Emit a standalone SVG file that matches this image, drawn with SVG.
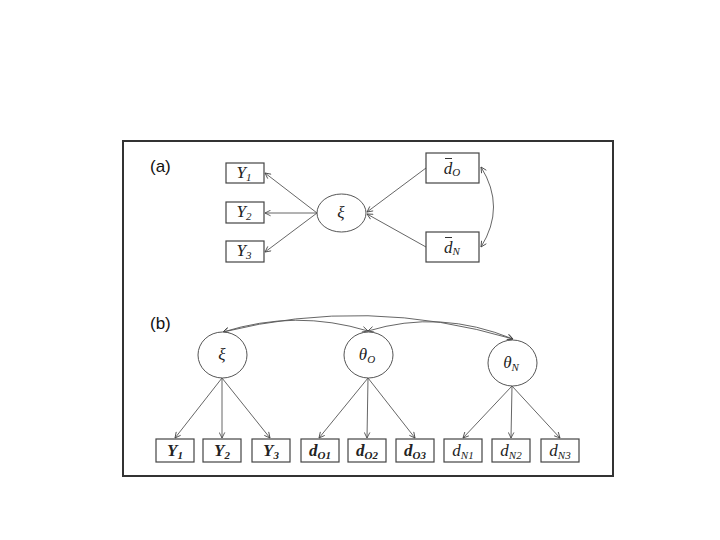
<svg xmlns="http://www.w3.org/2000/svg" width="720" height="540" viewBox="0 0 720 540">
<defs>
<marker id="ah" viewBox="0 0 10 10" refX="9" refY="5" markerWidth="7" markerHeight="7" markerUnits="userSpaceOnUse" orient="auto-start-reverse">
<path d="M1,1 L9,5 L1,9" fill="none" stroke="#444" stroke-width="1.2"/>
</marker>
</defs>
<style>
.box{fill:#fff;stroke:#444;stroke-width:1.2}
.ell{fill:#fff;stroke:#555;stroke-width:1}
.t{font-family:"Liberation Serif",serif;font-style:italic;font-size:17px;fill:#222;text-anchor:middle}
.tb{font-family:"Liberation Serif",serif;font-style:italic;font-weight:bold;font-size:17px;fill:#222;text-anchor:middle}
.sub{font-size:11px}
.lab{font-family:"Liberation Sans",Arial,sans-serif;font-size:17px;fill:#111}
.c{fill:none;stroke:#555;stroke-width:0.9;marker-end:url(#ah)}
.cc{fill:none;stroke:#555;stroke-width:0.9;marker-end:url(#ah);marker-start:url(#ah)}
.bar{stroke:#333;stroke-width:1}
</style>
<rect x="123" y="141" width="490" height="335" fill="#fff" stroke="#333" stroke-width="2"/>
<text class="lab" x="150" y="172">(a)</text>
<text class="lab" x="150" y="329">(b)</text>

<g id="connectors">
<line class="c" x1="317" y1="213" x2="265" y2="173"/>
<line class="c" x1="317" y1="213" x2="265" y2="213"/>
<line class="c" x1="317" y1="213" x2="265" y2="252"/>
<line class="c" x1="426" y1="168" x2="367" y2="212"/>
<line class="c" x1="426" y1="247" x2="367" y2="214"/>
<path class="cc" d="M481,167 Q506,207 481,247"/>
<path class="cc" d="M223,332 Q368,296 513,339"/>
<path class="cc" d="M223,332 Q296,309 368,331"/>
<path class="cc" d="M368,331 Q440,309 513,339"/>
<line class="c" x1="222" y1="378" x2="175" y2="438"/>
<line class="c" x1="222" y1="378" x2="222" y2="438"/>
<line class="c" x1="222" y1="378" x2="270" y2="438"/>
<line class="c" x1="368" y1="378" x2="319" y2="438"/>
<line class="c" x1="368" y1="378" x2="367" y2="438"/>
<line class="c" x1="368" y1="378" x2="415" y2="438"/>
<line class="c" x1="512" y1="386" x2="463" y2="438"/>
<line class="c" x1="512" y1="386" x2="511" y2="438"/>
<line class="c" x1="512" y1="386" x2="560" y2="438"/>
</g>

<g id="a_Y1"><rect class="box" x="226" y="163" width="38" height="20"/><text class="t" x="244" y="178">Y<tspan class="sub" dy="3">1</tspan></text></g>
<g id="a_Y2"><rect class="box" x="226" y="202" width="38" height="21"/><text class="t" x="244" y="217">Y<tspan class="sub" dy="3">2</tspan></text></g>
<g id="a_Y3"><rect class="box" x="226" y="241" width="38" height="21"/><text class="t" x="244" y="256">Y<tspan class="sub" dy="3">3</tspan></text></g>
<g id="a_xi"><ellipse class="ell" cx="341.5" cy="213" rx="24.5" ry="19"/><text class="t" x="341" y="218">ξ</text></g>
<g id="a_dO"><rect class="box" x="426" y="153" width="53" height="30"/><text class="t" x="452" y="174">d<tspan class="sub" dy="2">O</tspan></text><line class="bar" x1="445" y1="158.5" x2="452" y2="158.5"/></g>
<g id="a_dN"><rect class="box" x="426" y="232" width="53" height="30"/><text class="t" x="452" y="253">d<tspan class="sub" dy="2">N</tspan></text><line class="bar" x1="445" y1="237.5" x2="452" y2="237.5"/></g>

<g id="b_xi"><ellipse class="ell" cx="222.5" cy="355" rx="24.5" ry="23"/><text class="t" x="222" y="360">ξ</text></g>
<g id="b_thO"><ellipse class="ell" cx="368.5" cy="355" rx="24.5" ry="23"/><text class="t" x="367" y="360">θ<tspan class="sub" dy="3">O</tspan></text></g>
<g id="b_thN"><ellipse class="ell" cx="512.5" cy="363" rx="24.5" ry="23"/><text class="t" x="511" y="368">θ<tspan class="sub" dy="3">N</tspan></text></g>

<g id="b_Y1"><rect class="box" x="156" y="439" width="38" height="23"/><text class="tb" x="175" y="456">Y<tspan class="sub" dy="3">1</tspan></text></g>
<g id="b_Y2"><rect class="box" x="203" y="439" width="38" height="23"/><text class="tb" x="222" y="456">Y<tspan class="sub" dy="3">2</tspan></text></g>
<g id="b_Y3"><rect class="box" x="252" y="439" width="38" height="23"/><text class="tb" x="271" y="456">Y<tspan class="sub" dy="3">3</tspan></text></g>
<g id="b_dO1"><rect class="box" x="301" y="439" width="38" height="23"/><text class="tb" x="320" y="456">d<tspan class="sub" dy="3">O1</tspan></text></g>
<g id="b_dO2"><rect class="box" x="348" y="439" width="38" height="23"/><text class="tb" x="367" y="456">d<tspan class="sub" dy="3">O2</tspan></text></g>
<g id="b_dO3"><rect class="box" x="396" y="439" width="38" height="23"/><text class="tb" x="415" y="456">d<tspan class="sub" dy="3">O3</tspan></text></g>
<g id="b_dN1"><rect class="box" x="444" y="439" width="38" height="23"/><text class="t" x="463" y="456">d<tspan class="sub" dy="3">N1</tspan></text></g>
<g id="b_dN2"><rect class="box" x="492" y="439" width="38" height="23"/><text class="t" x="511" y="456">d<tspan class="sub" dy="3">N2</tspan></text></g>
<g id="b_dN3"><rect class="box" x="541" y="439" width="38" height="23"/><text class="t" x="560" y="456">d<tspan class="sub" dy="3">N3</tspan></text></g>
</svg>
